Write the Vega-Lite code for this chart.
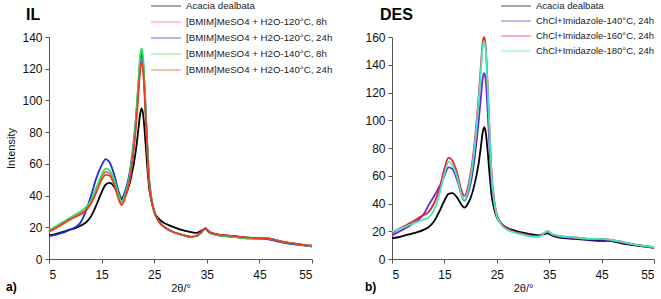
{
  "$schema": "https://vega.github.io/schema/vega-lite/v6.json",
  "background": "white",
  "padding": {"left": 5, "top": 0, "right": 5, "bottom": 5},
  "spacing": 31,
  "resolve": {"scale": {"color": "independent"}, "legend": {"color": "independent"}},
  "config": {
    "font": "Liberation Sans",
    "view": {"stroke": null},
    "axis": {"grid": false, "domainColor": "#555", "tickColor": "#555", "labelColor": "#111", "labelFontSize": 12, "titleFontSize": 11, "titleFontWeight": "normal", "titleColor": "#111", "tickSize": 4, "labelPadding": 3},
    "axisX": {"labelPadding": 6, "titlePadding": 2},
    "legend": {"labelFont": "Liberation Sans", "labelFontSize": 10, "labelColor": "#222", "symbolType": "M-1,0H5", "symbolSize": 100, "symbolStrokeWidth": 1.5, "labelOffset": 24, "rowPadding": 5}
  },
  "hconcat": [
    {
      "title": {"text": "IL", "anchor": "start", "fontSize": 16, "fontWeight": "bold", "dx": 20, "offset": -23},
      "vconcat": [
        {
          "title": {"text": "a)", "orient": "bottom", "anchor": "start", "fontSize": 12, "fontWeight": "bold", "offset": -11},
          "width": 263,
          "height": 222,
          "data": {"values": [
            {"x":5,"ac":15,"p8":17,"b24":14.5,"g8":18,"o24":17.5},
            {"x":6,"ac":15.5,"p8":19,"b24":15,"g8":20,"o24":19},
            {"x":7,"ac":16.5,"p8":21,"b24":16,"g8":22,"o24":21},
            {"x":8,"ac":17.5,"p8":23,"b24":17,"g8":24,"o24":23},
            {"x":9,"ac":18.5,"p8":25,"b24":18.5,"g8":26,"o24":25},
            {"x":10,"ac":19.5,"p8":27,"b24":20,"g8":28,"o24":26.5},
            {"x":11,"ac":21,"p8":29,"b24":23,"g8":30,"o24":28},
            {"x":12,"ac":23,"p8":31,"b24":30,"g8":32.5,"o24":30.5},
            {"x":13,"ac":27,"p8":36,"b24":40,"g8":37,"o24":35},
            {"x":14,"ac":34,"p8":44,"b24":51,"g8":45,"o24":42},
            {"x":15,"ac":42,"p8":52,"b24":59,"g8":53,"o24":50},
            {"x":15.8,"ac":47,"p8":55,"b24":63,"g8":57,"o24":53},
            {"x":16.5,"ac":48,"p8":54,"b24":61,"g8":56,"o24":52.5},
            {"x":17.5,"ac":45,"p8":47,"b24":52,"g8":49,"o24":46},
            {"x":18.2,"ac":40,"p8":39,"b24":43,"g8":41,"o24":38},
            {"x":18.8,"ac":37.5,"p8":35,"b24":38.5,"g8":36.5,"o24":34},
            {"x":19.5,"ac":40,"p8":40,"b24":43,"g8":41,"o24":39},
            {"x":20.5,"ac":50,"p8":54,"b24":58,"g8":56,"o24":53},
            {"x":21.5,"ac":68,"p8":84,"b24":88,"g8":87,"o24":82},
            {"x":22,"ac":82,"p8":108,"b24":110,"g8":112,"o24":104},
            {"x":22.3,"ac":91,"p8":121,"b24":124,"g8":127,"o24":118},
            {"x":22.6,"ac":95,"p8":127,"b24":130,"g8":133,"o24":124},
            {"x":22.9,"ac":91,"p8":121,"b24":124,"g8":127,"o24":119},
            {"x":23.2,"ac":80,"p8":104,"b24":106,"g8":108,"o24":102},
            {"x":23.6,"ac":62,"p8":76,"b24":78,"g8":78,"o24":75},
            {"x":24,"ac":46,"p8":51,"b24":52,"g8":52,"o24":50},
            {"x":24.5,"ac":36,"p8":37,"b24":38,"g8":38,"o24":37},
            {"x":25,"ac":30,"p8":30,"b24":30,"g8":30,"o24":30},
            {"x":26,"ac":25,"p8":23,"b24":23,"g8":23,"o24":23},
            {"x":27,"ac":22.5,"p8":20,"b24":20,"g8":20,"o24":20},
            {"x":28,"ac":21,"p8":18,"b24":18,"g8":18,"o24":18},
            {"x":30,"ac":18.5,"p8":15.5,"b24":15.5,"g8":15.5,"o24":15.5},
            {"x":32,"ac":17,"p8":14,"b24":14,"g8":14,"o24":14},
            {"x":33,"ac":16.5,"p8":14.5,"b24":14.5,"g8":14.5,"o24":14.5},
            {"x":34,"ac":18,"p8":17,"b24":17,"g8":17,"o24":17},
            {"x":34.7,"ac":19,"p8":19.5,"b24":19,"g8":19.5,"o24":19.5},
            {"x":35.5,"ac":17,"p8":17,"b24":16.5,"g8":17,"o24":17},
            {"x":37,"ac":15.5,"p8":15,"b24":15,"g8":15,"o24":15.5},
            {"x":40,"ac":14.5,"p8":14,"b24":14,"g8":14,"o24":14.5},
            {"x":43,"ac":13.5,"p8":13,"b24":13,"g8":13,"o24":13.5},
            {"x":45,"ac":13,"p8":13,"b24":13,"g8":13,"o24":13},
            {"x":46.5,"ac":13,"p8":13,"b24":12.5,"g8":13,"o24":13},
            {"x":48,"ac":12,"p8":12,"b24":11.5,"g8":12,"o24":12},
            {"x":50,"ac":10.5,"p8":10.5,"b24":10,"g8":10.5,"o24":10.5},
            {"x":52,"ac":9.5,"p8":9.5,"b24":9,"g8":9.5,"o24":9.5},
            {"x":55,"ac":8,"p8":8,"b24":8,"g8":8,"o24":8.5}
          ]},
          "transform": [{"fold": ["ac", "p8", "b24", "g8", "o24"], "as": ["series", "y"]}],
          "mark": {"type": "line", "strokeWidth": 1.8, "interpolate": "monotone"},
          "encoding": {
            "x": {"field": "x", "type": "quantitative", "scale": {"domain": [5, 55], "nice": false}, "axis": {"values": [5, 15, 25, 35, 45, 55], "title": "2θ/°"}},
            "y": {"field": "y", "type": "quantitative", "scale": {"domain": [0, 140], "nice": false}, "axis": {"values": [0, 20, 40, 60, 80, 100, 120, 140], "title": "Intensity", "titlePadding": 5}},
            "color": {"field": "series", "type": "nominal",
              "scale": {"domain": ["ac", "p8", "b24", "g8", "o24"], "range": ["#000000", "#ff4d94", "#1f2fd6", "#2ee65a", "#e8401c"]},
              "legend": {"orient": "none", "legendX": 101, "legendY": -37, "title": null, "symbolOpacity": 0.45, "labelFontSize": 9.7,
                "labelExpr": "{'ac': 'Acacia dealbata', 'p8': '[BMIM]MeSO4 + H2O-120°C, 8h', 'b24': '[BMIM]MeSO4 + H2O-120°C, 24h', 'g8': '[BMIM]MeSO4 + H2O-140°C, 8h', 'o24': '[BMIM]MeSO4 + H2O-140°C, 24h'}[datum.value]"}}
          }
        }
      ]
    },
    {
      "title": {"text": "DES", "anchor": "start", "fontSize": 16, "fontWeight": "bold", "dx": 15, "offset": -23},
      "vconcat": [
        {
          "title": {"text": "b)", "orient": "bottom", "anchor": "start", "fontSize": 12, "fontWeight": "bold", "offset": -11},
          "width": 262,
          "height": 222,
          "data": {"values": [
            {"x":5,"ac":15,"v140":17,"r160":18.5,"c180":19.5},
            {"x":6,"ac":15.5,"v140":19,"r160":21,"c180":21},
            {"x":7,"ac":16.5,"v140":21,"r160":23,"c180":22.5},
            {"x":8,"ac":17.5,"v140":23,"r160":25,"c180":24},
            {"x":9,"ac":18.5,"v140":25.5,"r160":27,"c180":25.5},
            {"x":10,"ac":19.5,"v140":28,"r160":29.5,"c180":27},
            {"x":11,"ac":21,"v140":32,"r160":31.5,"c180":28.5},
            {"x":12,"ac":23,"v140":39,"r160":34,"c180":30},
            {"x":13,"ac":27,"v140":45,"r160":40,"c180":35},
            {"x":14,"ac":34,"v140":52,"r160":50,"c180":46},
            {"x":15,"ac":42,"v140":60,"r160":65,"c180":61},
            {"x":15.8,"ac":47,"v140":66,"r160":73,"c180":70},
            {"x":16.5,"ac":47.5,"v140":65,"r160":71,"c180":68},
            {"x":17.5,"ac":44,"v140":56,"r160":61,"c180":58},
            {"x":18.2,"ac":39.5,"v140":47,"r160":50,"c180":47},
            {"x":18.8,"ac":37,"v140":42,"r160":45.5,"c180":42.5},
            {"x":19.5,"ac":40,"v140":47,"r160":52,"c180":49},
            {"x":20.5,"ac":50,"v140":65,"r160":75,"c180":72},
            {"x":21.5,"ac":68,"v140":98,"r160":115,"c180":112},
            {"x":22,"ac":82,"v140":118,"r160":141,"c180":138},
            {"x":22.3,"ac":91,"v140":130,"r160":156,"c180":153},
            {"x":22.6,"ac":95,"v140":134,"r160":160,"c180":157},
            {"x":22.9,"ac":91,"v140":128,"r160":152,"c180":150},
            {"x":23.2,"ac":80,"v140":110,"r160":130,"c180":128},
            {"x":23.6,"ac":62,"v140":82,"r160":95,"c180":93},
            {"x":24,"ac":46,"v140":55,"r160":62,"c180":60},
            {"x":24.5,"ac":36,"v140":40,"r160":43,"c180":42},
            {"x":25,"ac":30,"v140":31,"r160":32,"c180":31},
            {"x":26,"ac":25,"v140":25,"r160":25,"c180":24},
            {"x":27,"ac":22.5,"v140":22,"r160":22,"c180":21},
            {"x":28,"ac":21,"v140":20,"r160":20,"c180":19.5},
            {"x":30,"ac":19,"v140":18,"r160":18,"c180":17.5},
            {"x":32,"ac":17.5,"v140":16.5,"r160":16.5,"c180":16},
            {"x":33,"ac":17,"v140":16.5,"r160":16.5,"c180":16},
            {"x":34,"ac":18,"v140":18.5,"r160":18.5,"c180":18.5},
            {"x":34.7,"ac":18.5,"v140":19.5,"r160":20,"c180":20},
            {"x":35.5,"ac":17,"v140":17.5,"r160":18,"c180":18},
            {"x":37,"ac":15.5,"v140":16,"r160":16.5,"c180":16.5},
            {"x":40,"ac":14.5,"v140":15,"r160":15.5,"c180":15.5},
            {"x":43,"ac":13.5,"v140":14,"r160":14.5,"c180":14.5},
            {"x":45,"ac":13,"v140":14,"r160":14.5,"c180":14.5},
            {"x":46.5,"ac":13,"v140":13.5,"r160":14,"c180":14},
            {"x":48,"ac":12,"v140":12.5,"r160":13,"c180":13},
            {"x":50,"ac":10.5,"v140":11,"r160":11.5,"c180":11.5},
            {"x":52,"ac":9.5,"v140":10,"r160":10,"c180":10},
            {"x":55,"ac":8,"v140":8.5,"r160":8.5,"c180":8.5}
          ]},
          "transform": [{"fold": ["ac", "v140", "r160", "c180"], "as": ["series", "y"]}],
          "mark": {"type": "line", "strokeWidth": 1.8, "interpolate": "monotone"},
          "encoding": {
            "x": {"field": "x", "type": "quantitative", "scale": {"domain": [5, 55], "nice": false}, "axis": {"values": [5, 15, 25, 35, 45, 55], "title": "2θ/°"}},
            "y": {"field": "y", "type": "quantitative", "scale": {"domain": [0, 160], "nice": false}, "axis": {"values": [0, 20, 40, 60, 80, 100, 120, 140, 160], "title": null}},
            "color": {"field": "series", "type": "nominal",
              "scale": {"domain": ["ac", "v140", "r160", "c180"], "range": ["#000000", "#6a28d8", "#f0202a", "#3ee8c0"]},
              "legend": {"orient": "none", "legendX": 108, "legendY": -37, "title": null, "symbolOpacity": 0.45, "labelFontSize": 9.5, "rowPadding": 4,
                "labelExpr": "{'ac': 'Acacia dealbata', 'v140': 'ChCl+Imidazole-140°C, 24h', 'r160': 'ChCl+Imidazole-160°C, 24h', 'c180': 'ChCl+Imidazole-180°C, 24h'}[datum.value]"}}
          }
        }
      ]
    }
  ]
}
